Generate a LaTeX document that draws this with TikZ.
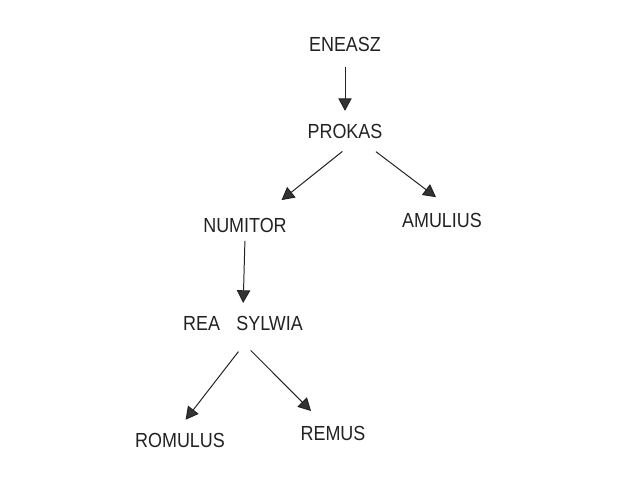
\documentclass[tikz,border=0pt]{standalone}
\usepackage{fontspec}
\setmainfont{Liberation Sans}[FakeStretch=0.88]
\usepackage{tikz}
\usetikzlibrary{arrows.meta}
\definecolor{InkBlack}{HTML}{222222}
\definecolor{TipGrey}{HTML}{333333}
\tikzset{
  namebox/.style={rectangle, inner sep=4pt, text=InkBlack, text depth=0pt, font=\fontsize{14.5}{16}\selectfont},
  link/.style={-{Triangle[length=9pt, width=9.5pt, fill=TipGrey]}, line width=0.7pt, draw=InkBlack, shorten <=6pt, shorten >=5pt}
}
\begin{document}
\begin{tikzpicture}[x=0.025cm, y=-0.025cm]
  \useasboundingbox (0,0) rectangle (640,477);
  \node[namebox] (eneasz) at (345,44) {ENEASZ};
  \node[namebox] (prokas) at (345,131) {PROKAS};
  \node[namebox] (numitor) at (245,225) {NUMITOR};
  \node[namebox] (amulius) at (442,220) {AMULIUS};
  \node[namebox] (rea) at (243,323) {REA\hspace{0.8em}SYLWIA};
  \node[namebox] (romulus) at (180,440) {ROMULUS};
  \node[namebox] (remus) at (333,433) {REMUS};

  \draw[link, shorten <=7pt, shorten >=5pt] (eneasz.south) -- (prokas.north);
  \draw[link, shorten <=8.5pt, shorten >=13.5pt] (prokas.-63) -- (numitor.31);
  \draw[link, shorten <=9pt, shorten >=11.5pt] (prokas.-32) -- (amulius.62);
  \draw[link, shorten <=2pt, shorten >=5pt] (numitor.south) -- (rea.north);
  \draw[link, shorten <=14pt, shorten >=6.5pt] (rea.-60) -- (romulus.north);
  \draw[link, shorten <=14.5pt, shorten >=9pt] (rea.-117) -- (remus.135);
\end{tikzpicture}
\end{document}
